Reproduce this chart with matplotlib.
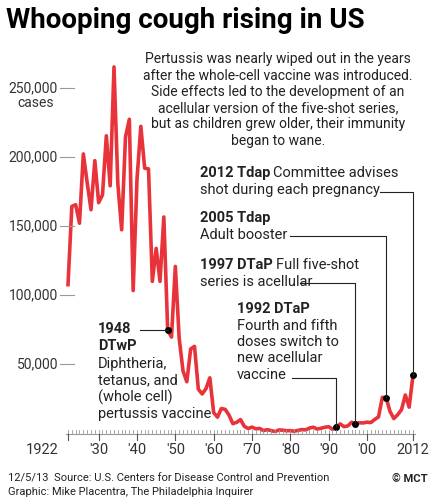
import matplotlib
matplotlib.use("Agg")
import matplotlib.pyplot as plt
from matplotlib.lines import Line2D

years = list(range(1922, 2013))
cases = [107473,164191,165418,152003,202210,181411,161799,197371,166914,172559,
         215343,179135,265269,180518,147237,214652,227319,103188,183866,222202,
         191890,191383,109873,133792,109860,156517,74715,69479,120718,68687,
         45030,37129,60886,62786,31732,28295,32148,40005,14809,11468,
         17749,17135,13005,6799,7717,9718,4810,3285,4249,3036,
         3287,1759,2402,1738,1010,2177,2063,1623,1730,1248,
         1895,2463,2276,3589,4195,2823,3450,4157,4570,2719,
         4083,6586,4617,5137,7796,6564,7405,7288,7867,7580,
         9771,11647,25827,25616,15632,10454,13278,16858,27550,18719,41880]
ytick_vals = [50000, 100000, 150000, 200000, 250000]
ytick_labels = ["50,000", "100,000", "150,000", "200,000", "250,000\ncases"]
xtick_vals = [1922, 1930, 1940, 1950, 1960, 1970, 1980, 1990, 2000, 2012]
xtick_labels = ["1922", "'30", "'40", "'50", "'60", "'70", "'80", "'90", "'00", "2012"]

W, H = 434, 500
plt.rcParams['font.family'] = ['Roboto', 'DejaVu Sans']
fig = plt.figure(figsize=(4.34, 5), dpi=100)
fig.patch.set_facecolor('white')
R = fig.canvas.get_renderer()

X0, X1, Y0, Y1 = 60, 420, 433, 60
xmin = 1922 - (68 - X0) / 3.833
xmax = 2012 + (X1 - 413) / 3.833
ymax = (Y0 - Y1) / 69 * 50000
ax = fig.add_axes([X0 / W, 1 - Y0 / H, (X1 - X0) / W, (Y0 - Y1) / H])
ax.set_xlim(xmin, xmax)
ax.set_ylim(0, ymax)
ax.axis('off')

def fx(px): return px / W
def fy(py): return 1 - py / H
def d2p(x, y):
    return 68 + (x - 1922) * 3.833, Y0 - y / 50000 * 69

C = '#222222'
FS = 10.5
RED = '#e8333a'
ax.plot(years, cases, color=RED, lw=2.6, solid_joinstyle='round', zorder=3)

for v, lab in zip(ytick_vals, ytick_labels):
    _, py = d2p(1922, v)
    fig.text(fx(58), fy(py), lab.split("\n")[0], ha='right', va='center', fontsize=10, color='#333333')
    if "\n" in lab:
        fig.text(fx(36), fy(py + 15), lab.split("\n")[1], ha='center', va='center', fontsize=10, color='#333333')
    fig.add_artist(Line2D([fx(60), fx(74)], [fy(py), fy(py)], color='#999999', lw=0.8))

fig.add_artist(Line2D([fx(66), fx(415)], [fy(434), fy(434)], color='#999999', lw=0.8))
for yr in years:
    px, _ = d2p(yr, 0)
    fig.add_artist(Line2D([fx(px), fx(px)], [fy(434), fy(430)], color='#999999', lw=0.6))
for v, lab in zip(xtick_vals, xtick_labels):
    px, _ = d2p(v, 0)
    fig.add_artist(Line2D([fx(px), fx(px)], [fy(434), fy(440)], color='#555555', lw=0.8))
    dx = -26 if v == 1922 else 0
    fig.text(fx(px + dx), fy(450), lab, ha='center', va='center', fontsize=10.5, color='#333333')

fig.text(fx(6), fy(20), "Whooping cough rising in US", fontsize=20, fontweight='bold',
         ha='left', va='center', color='black')
fig.text(fx(278), fy(100), "Pertussis was nearly wiped out in the years\nafter the whole-cell vaccine was introduced.\n"
         "Side effects led to the development of an\nacellular version of the five-shot series,\n"
         "but as children grew older, their immunity\nbegan to wane.",
         ha='center', va='center', fontsize=10, linespacing=1.2, color=C)

def line_text(x, y, bold, rest):
    t = fig.text(fx(x), fy(y), bold, ha='left', va='top', fontsize=FS, fontweight='bold', color=C)
    w = t.get_window_extent(R).width
    if rest:
        fig.text(fx(x + w + 3), fy(y), rest, ha='left', va='top', fontsize=FS, color=C)

def plain(x, y, s):
    fig.text(fx(x), fy(y), s, ha='left', va='top', fontsize=FS, color=C, linespacing=1.2)

def connector(year, line_y, start_x):
    val = cases[year - 1922]
    px, py = d2p(year, val)
    fig.add_artist(Line2D([fx(start_x), fx(px), fx(px)], [fy(line_y), fy(line_y), fy(py)], color=C, lw=0.8))
    ax.plot([year], [val], 'o', color='black', ms=4, zorder=4)

line_text(200, 166, "2012 Tdap", "Committee advises")
plain(200, 183, "shot during each pregnancy")
connector(2012, 192, 380)

line_text(200, 211, "2005 Tdap", "")
plain(200, 228, "Adult booster")
connector(2005, 236, 290)

line_text(200, 258, "1997 DTaP", "Full five-shot")
plain(200, 275, "series is acellular")
connector(1997, 283, 300)

line_text(237, 302, "1992 DTaP", "")
plain(237, 319, "Fourth and fifth\ndoses switch to\nnew acellular\nvaccine")
connector(1992, 378, 292)

line_text(98, 322, "1948", "")
line_text(98, 339, "DTwP", "")
plain(98, 357, "Diphtheria,\ntetanus, and\n(whole cell)\npertussis vaccine")
connector(1948, 330, 140)

fig.text(fx(8), fy(479), "12/5/13  Source: U.S. Centers for Disease Control and Prevention",
         fontsize=8, ha='left', va='center', color=C)
fig.text(fx(8), fy(492), "Graphic: Mike Placentra, The Philadelphia Inquirer",
         fontsize=8, ha='left', va='center', color=C)
fig.text(fx(428), fy(479), "© MCT", fontsize=8, fontweight='bold', ha='right', va='center', color=C)

fig.savefig("out.png", dpi=100, facecolor='white')
